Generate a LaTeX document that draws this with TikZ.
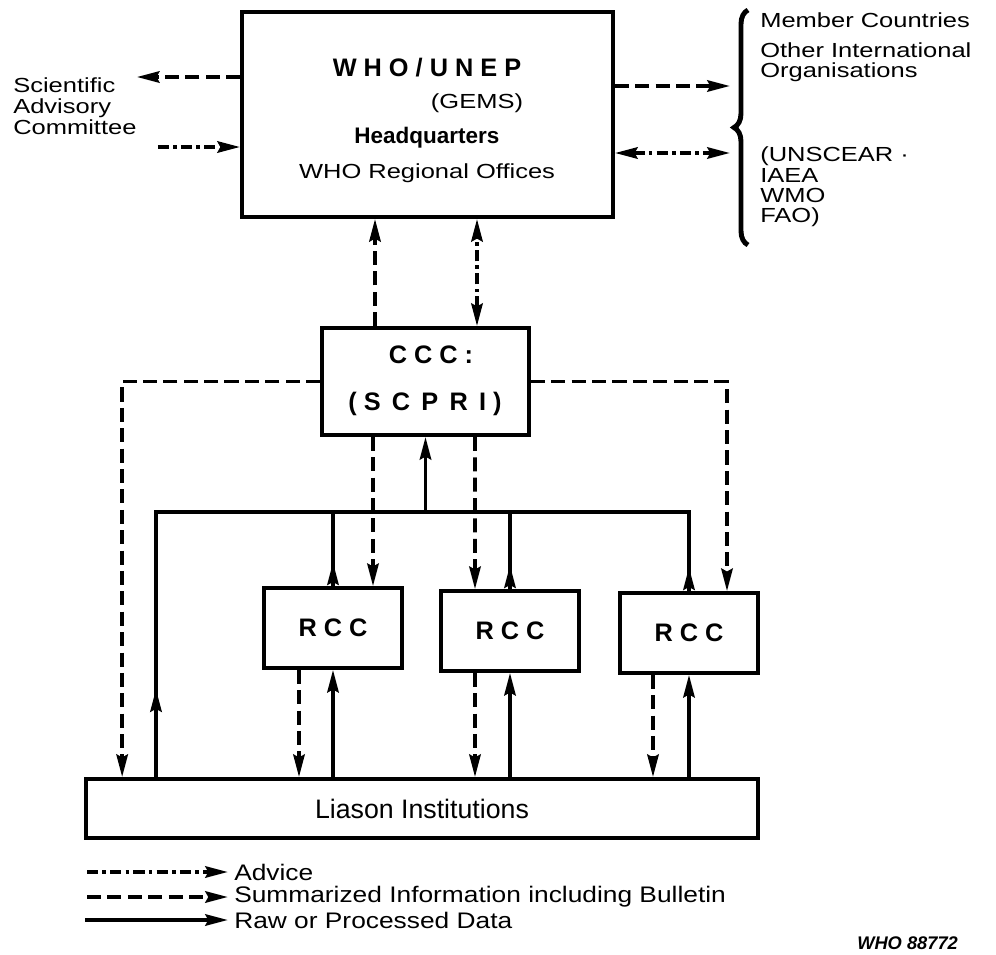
\documentclass[tikz,border=0pt]{standalone}
\usepackage{fontspec}
\setmainfont{Liberation Sans}
\newfontfamily\widefont{Liberation Sans}[FakeStretch=1.25]
\newfontfamily\midfont{Liberation Sans}[FakeStretch=1.17]
\usetikzlibrary{arrows.meta,decorations.pathreplacing,decorations.markings,calc}

\tikzset{
  box/.style={draw, line width=2.5pt, inner sep=0pt},
  wtext/.style={font=\widefont\fontsize{14.5}{14.5}\selectfont, inner sep=0pt},
  btext/.style={font=\bfseries\fontsize{18}{21}\selectfont, inner sep=0pt},
  ntext/.style={font=\midfont\fontsize{16}{18}\selectfont, inner sep=0pt},
  advice/.style={line width=2.8pt, dash pattern=on 8pt off 3pt on 2.5pt off 3pt},
  summ/.style={line width=2.8pt, dash pattern=on 10pt off 4.5pt},
  data/.style={line width=2.8pt, line cap=rect},
  tip/.style={-{Stealth[length=16pt,width=8pt,inset=2pt]}},
  tips/.style={{Stealth[length=16pt,width=8pt,inset=2pt]}-{Stealth[length=16pt,width=8pt,inset=2pt]}},
  headat/.style={postaction={decorate},
    decoration={markings, mark=at position #1 with {\arrow{Stealth[length=16pt,width=8pt,inset=2pt]}}}},
}

\begin{document}
\begin{tikzpicture}[x=0.025cm, y=-0.025cm]
\useasboundingbox (0,0) rectangle (996,955);

% headquarters
\node[box, minimum width=9.28cm, minimum height=5.13cm] (hq) at (427.5,114.5) {};
\node[btext] (who) at (427,68) {W H O / U N E P};
\node[wtext] (gems) at (477,103) {(GEMS)};
\node[btext, font=\bfseries\fontsize{16}{19}\selectfont] (hdq) at (427,138) {Headquarters};
\node[wtext] (wro) at (427,173) {WHO Regional Offices};

% left and right partners
\node[wtext, font=\widefont\fontsize{14.5}{15}\selectfont, align=left, anchor=west] (sac) at (13,106) {Scientific\\Advisory\\Committee};
\node[wtext, anchor=west] (mc) at (760,20) {Member Countries};
\node[wtext, align=left, anchor=west] (oio) at (760,62) {Other International\\Organisations};
\node[wtext, align=left, anchor=west] (orgs) at (760,187) {(UNSCEAR ·\\IAEA\\WMO\\FAO)};
\draw[line width=3.5pt, decorate, decoration={brace, amplitude=0.35cm}] (748,245) -- (748,10);
\coordinate (brc) at (730,128);

% centres
\node[box, minimum width=5.18cm, minimum height=2.68cm] (ccc) at (425.5,381.5) {};
\node[btext] (cccname) at (431,355) {C C C :};
\node[btext] (scpri) at (425,404) {( S\, C\, P\, R\, I )};
\foreach \n/\x/\y in {1/333/628, 2/510/631, 3/689/633}
  \node[box, btext, minimum width=3.45cm, minimum height=2cm] (rcc\n) at (\x,\y) {R C C};
\node[box, font=\fontsize{19}{21}\selectfont, minimum width=16.8cm, minimum height=1.48cm] (li) at (422,808.5) {Liason Institutions};

% headquarters links
\draw[summ,tip] ($(hq.west)+(0,-37.5)$) coordinate (s1) -- (s1 -| sac.east);
\path ($(hq.west)+(0,32.5)$) coordinate (a1);
\draw[advice,tip] ($(a1 -| sac.east)+(21,0)$) -- (a1);
\draw[summ,tip] ($(hq.east)+(0,-28.5)$) coordinate (s2) -- (s2 -| brc);
\draw[advice,tips] ($(hq.east)+(0,38.5)$) coordinate (a2) -- (a2 -| brc);
\draw[summ,tip] ($(ccc.north)+(-50.5,0)$) coordinate (s3) -- (s3 |- hq.south);
\draw[advice,tips] ($(ccc.north)+(51.5,0)$) coordinate (a3) -- (a3 |- hq.south);

% summarized information from CCC
\draw[summ,tip] (ccc.west) -| ($(li.north west)+(38,0)$);
\draw[summ,tip] (ccc.east) -| ($(rcc3.north)+(38,0)$);
\draw[summ,tip] ($(ccc.south)+(-52.5,0)$) -- ($(rcc1.north)+(40,0)$);
\draw[summ,tip] ($(ccc.south)+(49.5,0)$) -- ($(rcc2.north)+(-35,0)$);

% data bus
\coordinate (busl) at (156,512);
\coordinate (busr) at (689,512);
\draw[data, headat=2.2cm] (li.north -| busl) -- (busl) -- (busr);
\draw[data, headat=0.6cm] (rcc3.north) -- (busr);
\draw[data, headat=0.6cm] (rcc1.north) -- (rcc1.north |- busl);
\draw[data, headat=0.6cm] (rcc2.north) -- (rcc2.north |- busl);
\draw[data,tip] (ccc.south |- busl) -- (ccc.south);

% regional centres and liaison institutions
\foreach \n/\dx in {1/-34, 2/-35, 3/-36} {
  \draw[summ,tip] ($(rcc\n.south)+(\dx,0)$) coordinate (p\n) -- (p\n |- li.north);
  \draw[data,tip] (rcc\n.south |- li.north) -- (rcc\n.south);
}

% legend
\coordinate (lg) at (87,0);
\node[ntext, anchor=west] (ladv) at (234,872) {Advice};
\node[ntext, anchor=west] (lsum) at (234,897) {Summarized Information including Bulletin};
\node[ntext, anchor=west] (lraw) at (234,920) {Raw or Processed Data};
\draw[advice,tip] (ladv.west -| lg) -- ($(ladv.west)+(-6,0)$);
\draw[summ,tip] (lsum.west -| lg) -- ($(lsum.west)+(-6,0)$);
\draw[data,tip] (lraw.west -| lg) -- ($(lraw.west)+(-6,0)$);

\node[font=\bfseries\itshape\fontsize{13}{14}\selectfont, anchor=west, inner sep=0pt] (ref) at (857,943) {WHO 88772};
\end{tikzpicture}
\end{document}
